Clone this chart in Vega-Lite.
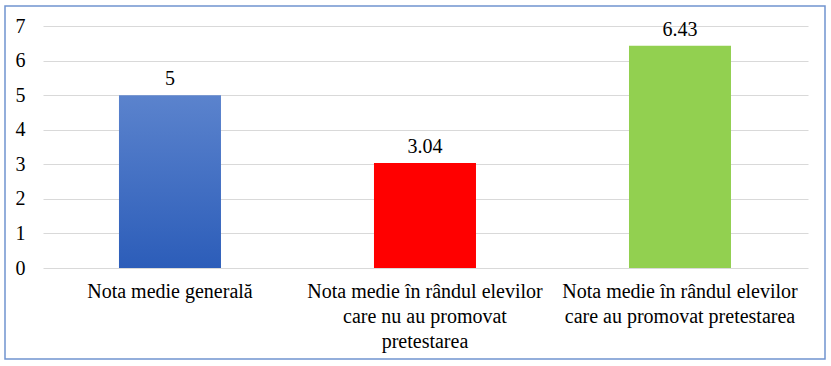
{
  "$schema": "https://vega.github.io/schema/vega-lite/v6.json",
  "width": 820,
  "height": 353,
  "autosize": "none",
  "padding": {"left": 5, "top": 6, "right": 6, "bottom": 7},
  "background": "white",
  "config": {
    "view": {"stroke": "#7094d0", "strokeWidth": 1.5},
    "font": "Liberation Serif"
  },
  "data": {
    "values": [
      {"category": "Nota medie generală", "value": 5},
      {"category": "Nota medie în rândul elevilor|care nu au promovat|pretestarea", "value": 3.04},
      {"category": "Nota medie în rândul elevilor|care au promovat pretestarea", "value": 6.43}
    ]
  },
  "encoding": {
    "x": {
      "field": "category",
      "type": "nominal",
      "sort": null,
      "scale": {"paddingInner": 0.6, "paddingOuter": 0.4078, "align": 0.548},
      "axis": {
        "title": null,
        "orient": "bottom",
        "offset": -91,
        "domain": false,
        "ticks": false,
        "labelAngle": 0,
        "labelExpr": "split(datum.label, '|')",
        "labelFont": "Liberation Serif",
        "labelFontSize": 20,
        "labelColor": "#000000",
        "labelBaseline": "alphabetic",
        "labelPadding": 29,
        "labelLineHeight": 25,
        "labelLimit": 0
      }
    },
    "y": {
      "field": "value",
      "type": "quantitative",
      "scale": {"domain": [-2.632, 7.579], "nice": false, "zero": false},
      "axis": {
        "title": null,
        "values": [0, 1, 2, 3, 4, 5, 6, 7],
        "offset": -38,
        "grid": false,
        "domain": false,
        "ticks": true,
        "tickSize": -765,
        "tickColor": "#d9d9d9",
        "tickWidth": 1,
        "labelFont": "Liberation Serif",
        "labelFontSize": 20,
        "labelColor": "#000000",
        "labelPadding": 783
      }
    }
  },
  "layer": [
    {
      "mark": {"type": "bar"},
      "encoding": {
        "color": {
          "condition": {
            "test": "datum.value == 5",
            "value": {
              "gradient": "linear",
              "x1": 0, "y1": 0, "x2": 0, "y2": 1,
              "stops": [
                {"offset": 0, "color": "#5b83cd"},
                {"offset": 1, "color": "#2c5db9"}
              ]
            }
          },
          "field": "category",
          "type": "nominal",
          "sort": null,
          "scale": {"range": ["#4a73c4", "#ff0000", "#92d050"]},
          "legend": null
        }
      }
    },
    {
      "mark": {"type": "text", "baseline": "alphabetic", "dy": -10, "fontSize": 20, "font": "Liberation Serif", "color": "#000000"},
      "encoding": {
        "text": {"field": "value", "type": "quantitative"}
      }
    }
  ]
}
